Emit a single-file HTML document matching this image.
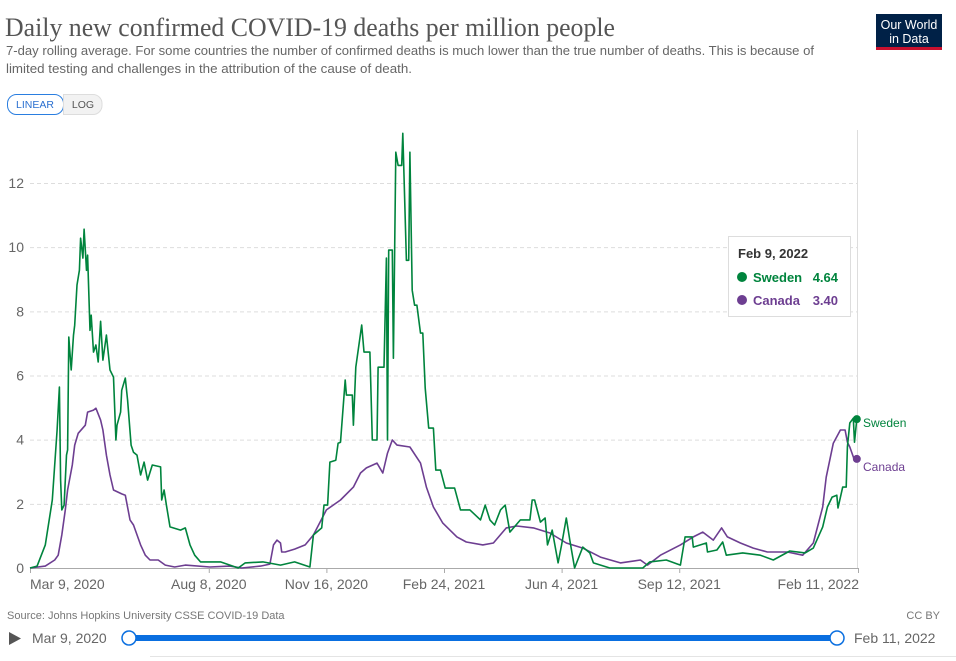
<!DOCTYPE html>
<html><head><meta charset="utf-8"><style>
html,body{margin:0;padding:0;background:#fff;}
svg{display:block;font-family:"Liberation Sans",sans-serif;}
</style></head><body>
<svg id="chart" width="956" height="661" viewBox="0 0 956 661" xmlns="http://www.w3.org/2000/svg">
<text x="5" y="36" font-family="Liberation Serif, serif" font-size="26" fill="#555" textLength="610" lengthAdjust="spacingAndGlyphs">Daily new confirmed COVID-19 deaths per million people</text>
<text x="6" y="55" font-size="13" fill="#666" textLength="808" lengthAdjust="spacingAndGlyphs">7-day rolling average. For some countries the number of confirmed deaths is much lower than the true number of deaths. This is because of</text>
<text x="6" y="73" font-size="13" fill="#666" textLength="406" lengthAdjust="spacingAndGlyphs">limited testing and challenges in the attribution of the cause of death.</text>
<g>
<rect x="876" y="14" width="66" height="36" fill="#002147"/>
<rect x="876" y="47" width="66" height="3" fill="#c8102e"/>
<text x="909" y="29" font-size="12.5" fill="#fff" text-anchor="middle">Our World</text>
<text x="909" y="43" font-size="12.5" fill="#fff" text-anchor="middle">in Data</text>
</g>
<g>
<rect x="7.5" y="94.5" width="56" height="20" rx="9" fill="#fff" stroke="#2a7ee0"/>
<text x="35" y="108" font-size="10.5" fill="#2a6fd0" text-anchor="middle">LINEAR</text>
</g>
<g>
<path d="M63.5 94.5 H93 a9 9 0 0 1 9 9 v2 a9 9 0 0 1 -9 9 H63.5 Z" fill="#f2f2f2" stroke="#ddd"/>
<text x="83" y="108" font-size="10.5" fill="#555" text-anchor="middle">LOG</text>
</g>
<g id="grid"></g>
<g id="yaxis"></g>
<g id="xaxis"></g>
<g id="series"></g>
<g>
<rect x="728.5" y="236.5" width="122" height="80" fill="#fff" stroke="#ddd"/>
<text x="738" y="258" font-size="13" font-weight="bold" fill="#333">Feb 9, 2022</text>
<circle cx="742" cy="277" r="5" fill="#00843d"/>
<text x="753" y="282" font-size="13" font-weight="bold" fill="#00843d">Sweden</text>
<text x="838" y="282" font-size="13" font-weight="bold" fill="#00843d" text-anchor="end">4.64</text>
<circle cx="742" cy="300" r="5" fill="#6d3e91"/>
<text x="753" y="305" font-size="13" font-weight="bold" fill="#6d3e91">Canada</text>
<text x="838" y="305" font-size="13" font-weight="bold" fill="#6d3e91" text-anchor="end">3.40</text>
</g>
<text x="7" y="619" font-size="11" fill="#777">Source: Johns Hopkins University CSSE COVID-19 Data</text>
<text x="940" y="619" font-size="11" fill="#777" text-anchor="end">CC BY</text>
<path d="M9 632 L21 638.5 L9 645 Z" fill="#555"/>
<text x="32" y="643" font-size="14" fill="#666">Mar 9, 2020</text>
<rect x="129" y="635" width="709" height="6" fill="#0a6fe0"/>
<circle cx="129" cy="638" r="7" fill="#fff" stroke="#0a6fe0" stroke-width="1.5"/>
<circle cx="837" cy="638" r="7" fill="#fff" stroke="#0a6fe0" stroke-width="1.5"/>
<text x="854" y="643" font-size="14" fill="#666">Feb 11, 2022</text>
<line x1="150" y1="656.5" x2="956" y2="656.5" stroke="#e4e4e4"/>
</svg>
<script>
const yTicks=[0,2,4,6,8,10,12];
const xTickDays=[0,152,252,352,452,552,704];
const xTickLabels=["Mar 9, 2020","Aug 8, 2020","Nov 16, 2020","Feb 24, 2021","Jun 4, 2021","Sep 12, 2021","Feb 11, 2022"];
const swedenDays=[0,6,13,19,23,25,26,27,29,31,32,33,35,37,38,40,42,43,45,46,48,49,51,52,54,56,58,60,62,65,68,71,73,74,77,78,81,83,86,88,91,94,97,100,104,111,112,114,116,119,128,132,136,140,145,162,170,177,183,198,213,225,238,241,248,250,253,255,260,262,264,268,269,274,275,277,282,284,289,291,295,296,301,303,304,305,308,309,311,313,316,317,320,322,323,325,327,329,332,334,336,339,343,345,349,353,361,366,374,383,387,391,395,400,404,408,417,425,427,429,434,438,440,444,449,452,456,459,463,470,476,479,493,521,527,541,553,557,563,564,575,576,584,589,592,606,621,632,646,659,666,674,678,682,686,687,691,694,695,697,700,701,703];
const swedenValues=[0,0.06,0.72,2.12,4.3,5.64,2.74,1.81,1.96,3.52,3.68,7.2,6.17,7.26,7.57,8.82,9.28,10.28,9.66,10.56,9.28,9.75,7.41,7.88,6.73,6.95,6.42,7.69,6.48,7.26,6.17,5.95,3.99,4.45,4.86,5.54,5.92,5.23,3.83,3.61,3.52,2.9,3.3,2.74,3.21,3.15,2.12,2.43,1.96,1.28,1.18,1.25,0.72,0.4,0.19,0.19,0.09,0,0.16,0.19,0.09,0.19,0.03,1.03,1.25,1.96,1.96,3.3,3.36,3.89,3.92,5.86,5.39,5.39,4.45,6.26,7.57,6.73,6.73,3.99,3.99,6.26,6.26,9.66,3.99,9.91,9.91,6.54,12.96,12.55,12.55,13.55,9.59,9.59,12.96,8.66,8.19,8.19,7.32,7.32,5.61,4.36,4.36,3.05,3.05,2.49,2.49,1.81,1.81,1.5,1.96,1.5,1.34,1.81,1.96,1.12,1.5,1.5,2.12,2.12,1.43,1.56,0.72,1.18,0.16,0.72,1.56,0.87,0,0.65,0.47,0.16,0,0,0.19,0.25,0.09,0.97,0.97,0.65,0.78,0.5,0.56,0.81,0.4,0.47,0.4,0.25,0.53,0.47,0.62,1.28,1.9,2.21,2.27,1.87,2.52,2.52,3.77,4.52,4.67,3.92,4.64];
const canadaDays=[0,13,21,24,27,30,32,36,38,41,47,49,54,56,60,62,65,68,71,78,81,85,88,94,98,102,109,115,123,132,153,170,180,196,204,207,210,213,214,217,225,234,241,252,264,275,281,286,295,300,304,308,312,323,332,337,343,351,363,371,385,394,405,414,428,442,456,470,485,502,519,525,536,553,564,572,581,588,593,604,615,627,644,657,666,674,677,683,689,693,695,697,701,703];
const canadaValues=[0,0.06,0.25,0.4,1.03,1.81,2.43,3.21,3.83,4.2,4.45,4.86,4.92,4.98,4.61,4.3,3.52,2.9,2.43,2.31,2.27,1.5,1.34,0.72,0.4,0.25,0.25,0.09,0.03,0.09,0.03,0.06,0,0.06,0.12,0.72,0.87,0.78,0.5,0.5,0.59,0.72,1.03,1.81,2.12,2.52,2.96,3.12,3.27,2.96,3.58,3.99,3.83,3.77,3.27,2.52,1.9,1.4,0.97,0.81,0.72,0.78,1.25,1.31,1.25,1.09,0.78,0.62,0.34,0.16,0.25,0.09,0.4,0.72,0.97,1.12,0.87,1.25,0.97,0.78,0.62,0.5,0.5,0.4,0.78,1.9,2.83,3.89,4.3,4.3,3.92,3.77,3.36,3.40];

const NS='http://www.w3.org/2000/svg';
const X0=30,X1=858,Y0=568,Y12=183;
const xs=d=>X0+(X1-X0)*d/704;
const ys=v=>Y0-(Y0-Y12)*v/12;
function mk(tag,attrs,parent){const e=document.createElementNS(NS,tag);for(const k in attrs)e.setAttribute(k,attrs[k]);parent.appendChild(e);return e;}
const grid=document.getElementById('grid'),ya=document.getElementById('yaxis'),xa=document.getElementById('xaxis'),ser=document.getElementById('series');
yTicks.forEach(t=>{
  if(t>0){const l=mk('line',{x1:X0,x2:X1,y1:ys(t)+0.5,y2:ys(t)+0.5,stroke:'#ddd','stroke-dasharray':'4,3'},grid);
  
  }
  const tx=mk('text',{x:X0-6,y:ys(t)+5,'font-size':14,fill:'#666','text-anchor':'end'},ya);tx.textContent=t;
  
  
});
const base=mk('line',{x1:X0,x2:X1,y1:Y0+0.5,y2:Y0+0.5,stroke:'#aaa'},xa);


const vline=mk('line',{x1:857.5,x2:857.5,y1:130,y2:Y0,stroke:'#ddd'},xa);


xTickDays.forEach((d,i)=>{
  mk('line',{x1:xs(d)+0.5,x2:xs(d)+0.5,y1:Y0,y2:Y0+5,stroke:'#aaa'},xa);
  const anchor=i===0?'start':(i===xTickDays.length-1?'end':'middle');
  const tx=mk('text',{x:xs(d)+(i===0?0:(i===xTickDays.length-1?1:0)),y:Y0+21,'font-size':14,fill:'#666','text-anchor':anchor},xa);
  tx.textContent=xTickLabels[i];
  
  
});
function line(days,vals,color,name){
  const p=mk('path',{d:days.map((d,i)=>(i?'L':'M')+xs(d).toFixed(1)+' '+ys(vals[i]).toFixed(1)).join(' '),fill:'none',stroke:color,'stroke-width':1.6,'stroke-linejoin':'round'},ser);
  
  
  const n=days.length-1;
  const c=mk('circle',{cx:xs(days[n]),cy:ys(vals[n]),r:4,fill:color},ser);
  
  
}
line(canadaDays,canadaValues,'#6d3e91','canada');
line(swedenDays,swedenValues,'#00843d','sweden');
const l1=mk('text',{x:863,y:ys(swedenValues[swedenValues.length-1])+8,'font-size':12,fill:'#00843d'},ser);l1.textContent='Sweden';


const l2=mk('text',{x:863,y:ys(canadaValues[canadaValues.length-1])+12,'font-size':12,fill:'#6d3e91'},ser);l2.textContent='Canada';


</script>
</body></html>
